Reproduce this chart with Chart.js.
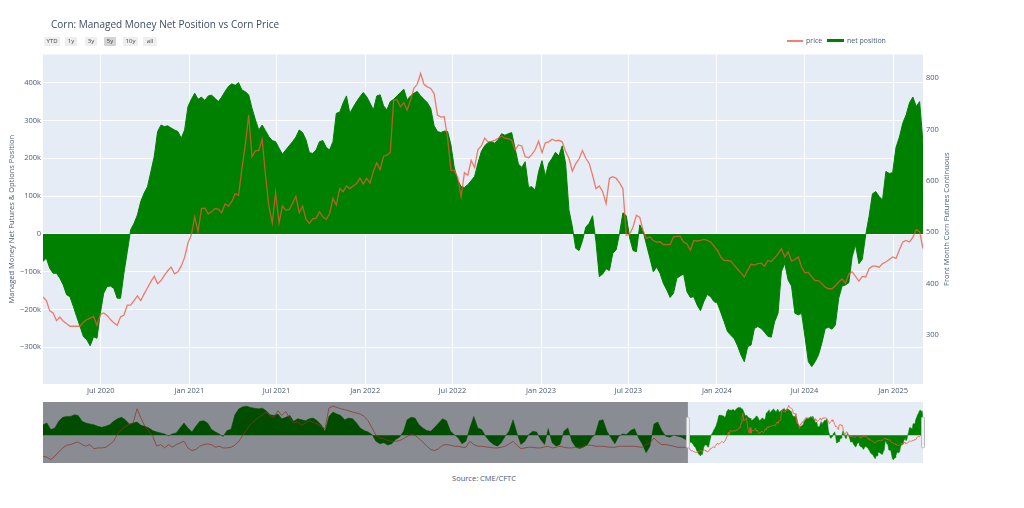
<!DOCTYPE html>
<html>
<head>
<meta charset="utf-8">
<script src="https://cdn.jsdelivr.net/npm/chart.js@4.4.1/dist/chart.umd.min.js"></script>
<style>
  body { margin: 0; background: #fff; font-family: 'Open Sans', sans-serif; }
  #wrap { position: relative; width: 1024px; height: 508px; overflow: hidden; }
  #mainChart { position: absolute; left: 0; top: 0; }
  #sliderChart { position: absolute; left: 0; top: 395px; }
  .title { position: absolute; left: 51px; top: 17px; font-size: 10px; line-height: 14px; color: #3b4a66; white-space: nowrap; }
  .btn { position: absolute; top: 37px; height: 9px; line-height: 9px; font-size: 6px; background: #eee; color: #444; text-align: center; border-radius: 1px; }
  .btn.on { background: #d4d4d4; }
  .leg { position: absolute; font-size: 7px; line-height: 9px; top: 36px; color: #4a5a78; white-space: nowrap; }
  .source { position: absolute; left: 434px; width: 100px; top: 473px; text-align: center; font-size: 7.5px; line-height: 10px; color: #4a5a78; }
</style>
</head>
<body>
<div id="wrap">
  <canvas id="mainChart" width="1024" height="400"></canvas>
  <canvas id="sliderChart" width="1024" height="75"></canvas>
  <div class="title">Corn: Managed Money Net Position vs Corn Price</div>
  <div class="btn" style="left:44px;width:16px">YTD</div>
  <div class="btn" style="left:65px;width:12px">1y</div>
  <div class="btn" style="left:85px;width:12px">3y</div>
  <div class="btn on" style="left:104px;width:12px">5y</div>
  <div class="btn" style="left:123px;width:15px">10y</div>
  <div class="btn" style="left:143px;width:14px">all</div>
  <div style="position:absolute;left:787px;top:39.5px;width:16px;height:2px;background:rgba(239,85,59,0.75)"></div>
  <div class="leg" style="left:806px">price</div>
  <div style="position:absolute;left:827px;top:38.5px;width:17px;height:3.5px;background:#008000"></div>
  <div class="leg" style="left:847px">net position</div>
  <div class="source">Source: CME/CFTC</div>
</div>
<script>
// weekly COT reports, first one on 2020-03-03 (net position in thousand contracts)
const netPosition = [
  -73,-64,-91,-104,-104,-117,-135,-161,-166,-192,-219,-245,-272,-280,-296,-272,-276,-210,-157,-139,
  -138,-144,-170,-170,-104,-47,11,28,50,86,108,125,165,205,271,288,284,286,280,275,
  271,253,275,337,356,372,356,362,353,365,367,359,350,362,377,390,397,393,400,381,
  376,368,332,302,275,
  288,273,257,247,244,227,211,222,233,244,256,275,268,249,215,213,222,244,247,229,
  222,244,319,322,346,365,319,335,350,363,374,363,346,328,365,368,339,328,350,356,
  365,374,383,354,365,372,377,365,356,347,332,286,271,268,272,271,235,174,143,125,
  123,130,141,152,187,218,
  233,242,244,240,250,265,261,265,268,227,185,176,191,123,125,116,165,194,153,187,
  200,216,206,233,187,63,19,-38,-44,-18,18,28,48,-20,-113,-106,-92,-97,-51,-42,
  2,56,48,-11,-44,-47,24,6,-29,-64,-100,-88,-104,-131,-148,-168,-157,-117,-111,-106,
  -153,-168,-166,-188,-203,-179,
  -160,-166,-179,-183,-207,-232,-258,-268,-277,-296,-320,-338,-298,-294,-250,-245,-250,-260,-271,-273,
  -232,-210,-100,-78,-122,-138,-210,-214,-210,-272,-338,-351,-338,-320,-289,-250,-247,-252,-241,-170,
  -138,-135,-129,-60,-29,-79,-67,-3,46,106,112,99,90,165,160,162,229,256,293,315,
  347,362,337,350,240
];
const price = [
  374,367,347,343,328,335,327,322,317,317,317,317,325,330,333,336,319,340,343,338,
  330,324,319,335,339,358,358,367,376,367,380,392,404,414,400,406,416,425,432,419,
  423,434,451,479,495,530,501,546,547,536,540,546,545,538,555,551,560,575,572,624,
  670,728,647,659,659,
  681,611,551,518,577,518,551,543,544,556,570,538,551,525,517,526,527,540,530,525,
  536,566,553,585,579,590,585,590,595,605,594,605,596,619,635,622,648,650,655,757,
  758,744,752,738,757,780,788,809,788,783,780,770,728,724,725,683,621,620,607,569,
  616,611,640,626,661,668,
  683,676,677,679,683,687,683,682,679,660,670,668,647,645,651,661,677,655,674,676,
  681,678,679,676,657,644,619,633,643,659,644,634,611,585,590,579,556,605,608,605,
  596,585,494,496,510,533,529,503,488,491,484,481,481,476,476,476,491,492,492,481,
  477,465,484,483,484,486,
  484,481,473,465,452,445,445,444,436,428,421,413,426,438,436,439,440,434,445,443,
  450,458,468,452,462,444,447,452,432,421,422,413,406,406,400,393,390,390,396,403,
  409,401,419,423,414,405,414,413,429,434,434,432,439,442,447,452,449,466,481,484,
  481,490,505,501,468
];

// older history shown only in the range slider, monthly from 2006-06
const histNet = [
  151,174,80,104,198,255,269,269,292,283, 198,174,160,151,127,113,127,151,198,236,
  255,222,160,174,189,141,127,104,66,47, 33,19,-9,19,33,104,174,104,47,127,
  198,207,174,80,47,19,-19,66,85,292, 377,406,415,396,387,377,387,349,292,283,
  302,236,255,283,198,236,222,207,236,245, 207,151,57,269,330,302,283,222,245,236,
  174,104,66,47,9,-85,-123,-108,-141,-123, -61,-28,57,222,255,245,151,104,66,57,
  113,174,236,207,57,9,-38,-123,-85,104, 269,104,80,-14,-85,-132,-156,-108,-14,57,
  222,33,-132,-85,9,57,47,-61,-132,94, -108,-156,-132,57,104,-85,-170,-189,-170,-132,
  -38,9,207,222,57,-38,-123,-14,19,9, 66,94,-38,-123,-250,-156,160,189,66,-14,
  -28,0,-14,-28,-60
];
const histPrice = [
  276,265,241,276,321,363,391,398,415,426, 398,381,398,356,363,363,370,398,433,510,
  555,590,608,625,775,677,590,538,485,381, 398,363,398,370,398,415,433,363,335,346,
  381,398,405,398,370,381,363,363,370,391, 433,496,555,608,649,684,712,740,705,684,
  754,705,747,670,625,642,601,625,649,635, 615,590,566,782,803,789,775,765,754,740,
  730,719,695,649,573,496,468,461,440,433, 433,440,461,485,503,496,461,426,381,346,
  335,356,391,398,391,381,381,370,370,433, 398,381,381,374,370,363,363,370,381,405,
  433,391,356,363,370,370,363,363,374,381, 363,370,381,370,363,363,370,363,381,391,
  391,381,381,381,374,370,370,381,381,381, 381,381,374,370,398,415,468,426,398,398,
  391,381,370,370,370
];

const xTickDates = ['2020-07-01','2021-01-01','2021-07-01','2022-01-01','2022-07-01','2023-01-01','2023-07-01','2024-01-01','2024-07-01','2025-01-01'];
const xTickLabels = ['Jul 2020','Jan 2021','Jul 2021','Jan 2022','Jul 2022','Jan 2023','Jul 2023','Jan 2024','Jul 2024','Jan 2025'];
const netTicks = [-300,-200,-100,0,100,200,300,400];
const priceTicks = [300,400,500,600,700,800];

const DAY = 864e5;
const weekDates = netPosition.map((_, i) => Date.UTC(2020, 2, 3) + i * 7 * DAY);
const histDates = histNet.map((_, m) => Date.UTC(2006, 5 + m, 13));
const allDates = histDates.concat(weekDates);
const allNet = histNet.concat(netPosition);
const allPrice = histPrice.concat(price);

Chart.defaults.font.family = "'Open Sans', sans-serif";
const txt = '#4a5a78';
const tickFont = {size: 7.5};
const PRICE_COL = 'rgba(239,85,59,0.75)';
const GREEN = '#008000';

const plotBg = {
    id: 'plotBg',
    beforeDraw(chart) {
        const a = chart.chartArea;
        chart.ctx.save();
        chart.ctx.fillStyle = '#E5ECF6';
        chart.ctx.fillRect(a.left, a.top, a.right - a.left, a.bottom - a.top);
        chart.ctx.restore();
    }
};

// plotly turns the right axis title the same way as the left one (bottom to top)
const rightTitle = {
    id: 'rightTitle',
    afterDraw(chart) {
        const s = chart.scales.y2;
        const ctx = chart.ctx;
        ctx.save();
        ctx.translate(s.right - 77.3, (s.top + s.bottom) / 2);
        ctx.rotate(-Math.PI / 2);
        ctx.fillStyle = txt;
        ctx.font = "7.5px 'Open Sans', sans-serif";
        ctx.textAlign = 'center';
        ctx.textBaseline = 'middle';
        ctx.fillText('Front Month Corn Futures Continuous', 0, 0);
        ctx.restore();
    }
};

const pts = (xs, ys) => xs.map((x, i) => ({x: x, y: ys[i]}));

new Chart(document.getElementById('mainChart'), {
    type: 'line',
    data: {
        datasets: [{
            label: 'price',
            data: pts(weekDates, price),
            yAxisID: 'y2',
            borderColor: PRICE_COL,
            borderWidth: 1.3,
            pointRadius: 0,
            fill: false,
            order: 1
        }, {
            label: 'net position',
            data: pts(weekDates, netPosition),
            yAxisID: 'y',
            borderColor: GREEN,
            backgroundColor: GREEN,
            borderWidth: 1,
            pointRadius: 0,
            fill: 'origin',
            order: 2
        }]
    },
    options: {
        responsive: false,
        animation: false,
        layout: {padding: {top: 54.5, left: 0, right: 0, bottom: 0}},
        plugins: {legend: {display: false}, tooltip: {enabled: false}},
        scales: {
            x: {
                type: 'linear',
                min: weekDates[0],
                max: weekDates[weekDates.length - 1],
                afterBuildTicks: s => { s.ticks = xTickDates.map(d => ({value: Date.parse(d)})); },
                afterFit: s => { s.height = 16; },
                ticks: {
                    callback: (v, i) => xTickLabels[i],
                    autoSkip: false, maxRotation: 0, padding: 2,
                    font: tickFont, color: txt
                },
                grid: {color: '#fff', drawTicks: false},
                border: {display: false}
            },
            y: {
                position: 'left',
                min: -397, max: 474.6,
                afterBuildTicks: s => { s.ticks = netTicks.map(v => ({value: v})); },
                afterFit: s => { s.width = 43; },
                ticks: {
                    callback: v => v === 0 ? '0' : (v < 0 ? '\u2212' : '') + Math.abs(v) + 'k',
                    padding: 2, font: tickFont, color: txt
                },
                grid: {color: '#fff', lineWidth: c => c.tick && c.tick.value === 0 ? 2 : 1, drawTicks: false},
                border: {display: false},
                title: {display: true, text: 'Managed Money Net Futures & Options Position', color: txt, font: {size: 7.5}, padding: {top: 7.5}}
            },
            y2: {
                position: 'right',
                min: 204.6, max: 846,
                afterBuildTicks: s => { s.ticks = priceTicks.map(v => ({value: v})); },
                afterFit: s => { s.width = 101; },
                ticks: {padding: 3, font: tickFont, color: txt},
                grid: {display: false, drawTicks: false},
                border: {display: false}
            }
        }
    },
    plugins: [plotBg, rightTitle]
});

// range slider: grey mask over the part outside the 5y window, plus the two grabbers
const sliderMask = {
    id: 'sliderMask',
    afterDatasetsDraw(chart) {
        const a = chart.chartArea;
        const ctx = chart.ctx;
        const xStart = chart.scales.x.getPixelForValue(weekDates[0]);
        ctx.save();
        ctx.fillStyle = 'rgba(0,0,0,0.4)';
        ctx.fillRect(a.left, a.top, xStart - a.left, a.bottom - a.top);
        const h = (a.bottom - a.top) / 2;
        [xStart, a.right].forEach(gx => {
            ctx.fillStyle = '#f2f2f2';
            ctx.strokeStyle = '#bbb';
            ctx.lineWidth = 1;
            ctx.beginPath();
            ctx.roundRect(gx - 1.5, a.top + h / 2, 3, h, 1);
            ctx.fill();
            ctx.stroke();
        });
        ctx.restore();
    }
};

new Chart(document.getElementById('sliderChart'), {
    type: 'line',
    data: {
        datasets: [{
            data: pts(allDates, allPrice),
            yAxisID: 'y2',
            borderColor: PRICE_COL,
            borderWidth: 1,
            pointRadius: 0,
            fill: false,
            order: 1
        }, {
            data: pts(allDates, allNet),
            yAxisID: 'y',
            borderColor: GREEN,
            backgroundColor: GREEN,
            borderWidth: 0.5,
            pointRadius: 0,
            fill: 'origin',
            order: 2
        }]
    },
    options: {
        responsive: false,
        animation: false,
        layout: {padding: {top: 7, left: 43, right: 101, bottom: 7}},
        plugins: {legend: {display: false}, tooltip: {enabled: false}},
        scales: {
            x: {type: 'linear', display: false, min: allDates[0], max: allDates[allDates.length - 1]},
            y: {display: false, min: -397, max: 474.6},
            y2: {display: false, position: 'right', min: 204.6, max: 846}
        }
    },
    plugins: [plotBg, sliderMask]
});
</script>
</body>
</html>
